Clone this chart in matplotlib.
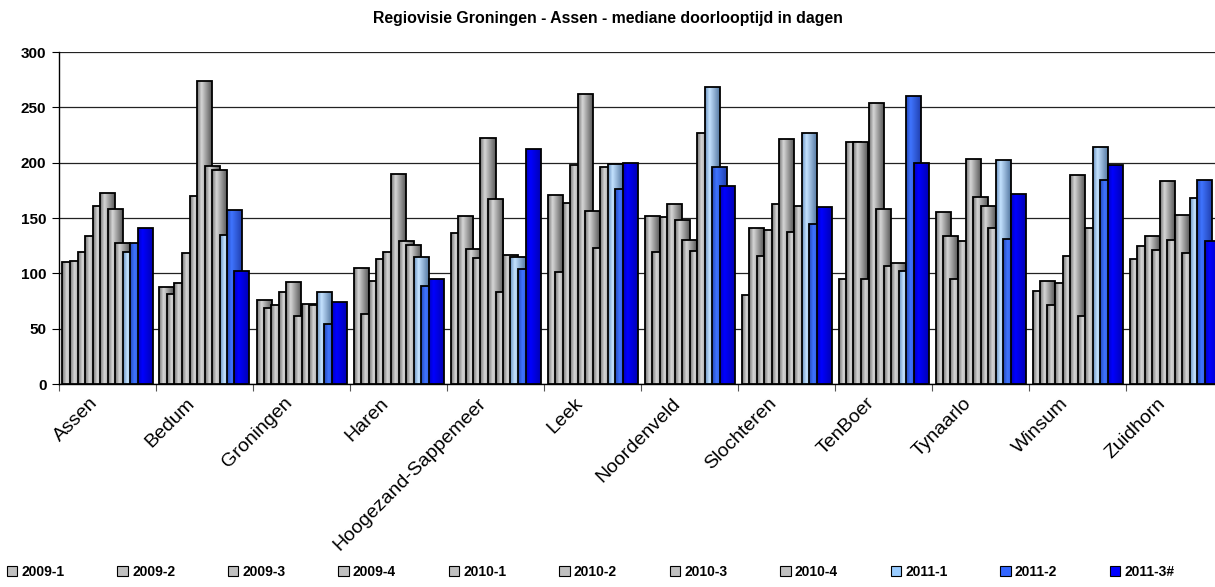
import matplotlib.pyplot as plt
import numpy as np
from matplotlib.colors import to_rgb
from matplotlib.patches import Patch
from matplotlib.transforms import ScaledTranslation

plt.rcParams['font.family'] = ['Liberation Sans', 'DejaVu Sans']

gemeenten = ['Assen', 'Bedum', 'Groningen', 'Haren', 'Hoogezand-Sappemeer', 'Leek',
             'Noordenveld', 'Slochteren', 'TenBoer', 'Tynaarlo', 'Winsum', 'Zuidhorn']
periodes = ['2009-1', '2009-2', '2009-3', '2009-4', '2010-1', '2010-2',
            '2010-3', '2010-4', '2011-1', '2011-2', '2011-3#']

# mediane doorlooptijd (dagen) per kwartaal, per gemeente
d2009_1 = [110, 88, 76, 105, 136, 171, 152, 80, 95, 155, 84, 113]
d2009_2 = [111, 81, 69, 63, 152, 101, 119, 141, 219, 134, 93, 125]
d2009_3 = [119, 91, 71, 93, 122, 164, 151, 116, 219, 95, 71, 134]
d2009_4 = [134, 118, 83, 113, 114, 198, 163, 139, 95, 129, 91, 121]
d2010_1 = [161, 170, 92, 119, 222, 262, 148, 163, 254, 203, 116, 183]
d2010_2 = [173, 274, 61, 190, 167, 156, 130, 221, 158, 169, 189, 130]
d2010_3 = [158, 197, 72, 129, 83, 123, 120, 137, 107, 161, 61, 153]
d2010_4 = [127, 193, 71, 126, 117, 196, 227, 161, 109, 141, 141, 118]
d2011_1 = [119, 135, 83, 115, 115, 199, 268, 227, 102, 202, 214, 168]
d2011_2 = [127, 157, 54, 89, 104, 176, 196, 145, 260, 131, 184, 184]
d2011_3 = [141, 102, 74, 95, 212, 200, 179, 160, 200, 172, 198, 129]
reeksen = [d2009_1, d2009_2, d2009_3, d2009_4, d2010_1, d2010_2,
           d2010_3, d2010_4, d2011_1, d2011_2, d2011_3]

kleuren = ['#C0C0C0'] * 8 + ['#99CCFF', '#3366FF', '#0000FF']
# (links, licht, rechts) for the cylinder-like shading of each bar
verloop = {'#C0C0C0': ('#727272', '#D6D6D6', '#585858'),
           '#99CCFF': ('#6890BE', '#C4E2FF', '#5478A2'),
           '#3366FF': ('#2448B8', '#3F74FF', '#2040B0'),
           '#0000FF': ('#0000C0', '#0000FF', '#0000B4')}


def gradient(kleur):
    links, licht, rechts = [np.array(to_rgb(c)) for c in verloop[kleur]]
    t = np.linspace(0, 1, 64)
    rgb = np.stack([np.interp(t, [0, 0.3, 1], [links[i], licht[i], rechts[i]])
                    for i in range(3)], axis=-1)
    return rgb[np.newaxis, :, :]


fig = plt.figure(figsize=(12.15, 5.87), dpi=100)
ax = fig.add_axes([59 / 1215, 203 / 587, 1164 / 1215, 332 / 587])

n = len(periodes)
stap = 7.5 / 97
breedte = 2 * stap
marge = (1 - (n - 1) * stap - breedte) / 2
x = np.arange(len(gemeenten))

for j, (vals, kleur) in enumerate(zip(reeksen, kleuren)):
    z = 3 + j * 0.1
    xs = x + marge + j * stap
    bars = ax.bar(xs, vals, breedte, align='edge', color=kleur, edgecolor='none', zorder=z)
    img = gradient(kleur)
    for b in bars:
        im = ax.imshow(img, extent=(b.get_x(), b.get_x() + b.get_width(), 0, b.get_height()),
                       aspect='auto', interpolation='bilinear', zorder=z + 0.01)
        im.set_clip_path(b)
    ax.bar(xs, vals, breedte, align='edge', fill=False, edgecolor='black', linewidth=1.3,
           zorder=z + 0.02)

ax.set_xlim(0, len(gemeenten))
ax.set_ylim(0, 300)
ax.set_yticks(np.arange(0, 301, 50))
ax.yaxis.grid(True, color='#222222', linewidth=0.9)
ax.set_axisbelow(True)
for s in ['top', 'right']:
    ax.spines[s].set_visible(False)
for s in ['left', 'bottom']:
    ax.spines[s].set_color('black')
    ax.spines[s].set_linewidth(1.0)

ax.set_xticks(np.arange(len(gemeenten) + 1))
ax.set_xticklabels([])
ax.set_xticks(x + 0.5, minor=True)
ax.set_xticklabels(gemeenten, minor=True, rotation=45, ha='right', va='center',
                   rotation_mode='anchor', fontsize=14)
ax.tick_params(axis='x', which='minor', length=0, pad=12)
ax.tick_params(axis='x', which='major', length=5, direction='out', color='#555555')
ax.tick_params(axis='y', length=5, direction='out', labelsize=11, pad=4)
verschuif = ScaledTranslation(-12 / 100, 0, fig.dpi_scale_trans)
for lbl in ax.get_xticklabels(minor=True):
    lbl.set_transform(lbl.get_transform() + verschuif)
for lbl in ax.get_yticklabels():
    lbl.set_fontweight('bold')

fig.text(0.5, 0.968, 'Regiovisie Groningen - Assen - mediane doorlooptijd in dagen',
         ha='center', va='center', fontsize=11.4, fontweight='bold')

handles = [Patch(facecolor=k, edgecolor='black', linewidth=0.8) for k in kleuren]
fig.legend(handles, periodes, loc='center left', ncol=n,
           bbox_to_anchor=(7 / 1215, 15 / 587), frameon=False, borderpad=0,
           prop={'weight': 'bold', 'size': 10}, handlelength=0.75, handleheight=0.75,
           handletextpad=0.3, columnspacing=3.8, borderaxespad=0)

fig.savefig('out.png', dpi=100)
